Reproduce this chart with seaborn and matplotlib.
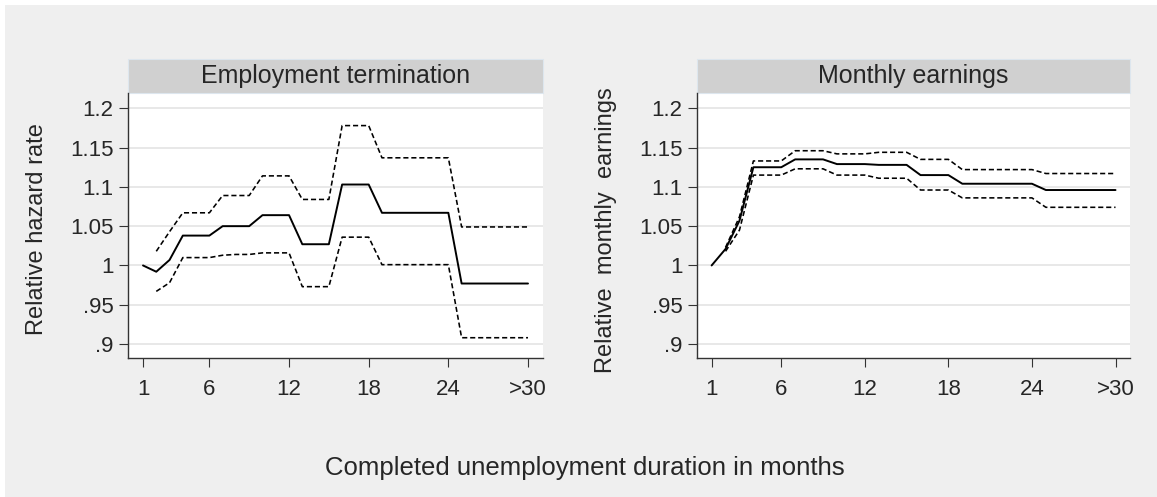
import numpy as np
import pandas as pd
import matplotlib
matplotlib.use('Agg')
import matplotlib.pyplot as plt
import seaborn as sb
from matplotlib.patches import Rectangle

# months 1..30, last one is shown as ">30"
months = list(range(1, 31))
tick_pos = [1, 6, 12, 18, 24, 30]
tick_lab = ['1', '6', '12', '18', '24', '>30']
y_ticks = [0.9, 0.95, 1.0, 1.05, 1.1, 1.15, 1.2]
y_lab = ['.9', '.95', '1', '1.05', '1.1', '1.15', '1.2']

# employment termination: estimate and bounds (bounds start at month 2)
emp_est = [1.0, 0.992, 1.007, 1.038, 1.038, 1.038, 1.050, 1.050, 1.050, 1.064,
           1.064, 1.064, 1.027, 1.027, 1.027, 1.103, 1.103, 1.103, 1.067, 1.067,
           1.067, 1.067, 1.067, 1.067, 0.977, 0.977, 0.977, 0.977, 0.977, 0.977]
emp_hi = [1.018, 1.043, 1.067, 1.067, 1.067, 1.089, 1.089, 1.089, 1.114, 1.114,
          1.114, 1.084, 1.084, 1.084, 1.178, 1.178, 1.178, 1.137, 1.137, 1.137,
          1.137, 1.137, 1.137, 1.049, 1.049, 1.049, 1.049, 1.049, 1.049]
emp_lo = [0.967, 0.978, 1.010, 1.010, 1.010, 1.013, 1.014, 1.014, 1.016, 1.016,
          1.016, 0.973, 0.973, 0.973, 1.036, 1.036, 1.036, 1.001, 1.001, 1.001,
          1.001, 1.001, 1.001, 0.908, 0.908, 0.908, 0.908, 0.908, 0.908]

# monthly earnings
earn_est = [1.0, 1.021, 1.057, 1.125, 1.125, 1.125, 1.135, 1.135, 1.135, 1.129,
            1.129, 1.129, 1.128, 1.128, 1.128, 1.115, 1.115, 1.115, 1.104, 1.104,
            1.104, 1.104, 1.104, 1.104, 1.096, 1.096, 1.096, 1.096, 1.096, 1.096]
earn_hi = [1.023, 1.062, 1.133, 1.133, 1.133, 1.146, 1.146, 1.146, 1.142, 1.142,
           1.142, 1.144, 1.144, 1.144, 1.135, 1.135, 1.135, 1.122, 1.122, 1.122,
           1.122, 1.122, 1.122, 1.117, 1.117, 1.117, 1.117, 1.117, 1.117]
earn_lo = [1.018, 1.045, 1.115, 1.115, 1.115, 1.123, 1.123, 1.123, 1.115, 1.115,
           1.115, 1.111, 1.111, 1.111, 1.096, 1.096, 1.096, 1.086, 1.086, 1.086,
           1.086, 1.086, 1.086, 1.074, 1.074, 1.074, 1.074, 1.074, 1.074]

sb.set_style('white')
plt.rcParams['font.family'] = ['Liberation Sans', 'DejaVu Sans']

W, H = 1157, 497
fig = plt.figure(figsize=(W / 100, H / 100), dpi=100)
fig.patch.set_facecolor('white')
# light gray background (thin white edge top/left like the original)
fig.patches.append(Rectangle((5 / W, 0), 1, 1 - 5 / H, transform=fig.transFigure,
                             facecolor='#efefef', edgecolor='none', zorder=-10))

panels = [
    ('Employment termination', emp_est, emp_hi, emp_lo, [128, 543], (-0.13, 31.13)),
    ('Monthly earnings', earn_est, earn_hi, earn_lo, [697, 1130], (-0.05, 31.04)),
]

top, bot = 93.3, 358
for title, est, hi, lo, xs, xlim in panels:
    ax = fig.add_axes([xs[0] / W, 1 - bot / H, (xs[1] - xs[0]) / W, (bot - top) / H])
    ax.set_facecolor('white')
    for v in y_ticks:
        ax.axhline(v, color='#e8e8e8', lw=1.4, zorder=0)
    sb.lineplot(x=months, y=est, ax=ax, color='black', lw=1.4)
    sb.lineplot(x=months[1:], y=hi, ax=ax, color='black', lw=1.15, linestyle=(0, (3.2, 1.8)))
    sb.lineplot(x=months[1:], y=lo, ax=ax, color='black', lw=1.15, linestyle=(0, (3.2, 1.8)))
    ax.set_xlim(*xlim)
    ax.set_ylim(0.8822, 1.2191)
    ax.set_xticks(tick_pos)
    ax.set_xticklabels(tick_lab)
    ax.set_yticks(y_ticks)
    ax.set_yticklabels(y_lab)
    ax.tick_params(axis='both', direction='out', length=6.5, width=0.8, color='#333333',
                   labelsize=16, pad=4, left=True, bottom=True)
    ax.tick_params(axis='x', pad=8.5)
    for s in ['top', 'right']:
        ax.spines[s].set_visible(False)
    for s in ['left', 'bottom']:
        ax.spines[s].set_color('#333333')
        ax.spines[s].set_linewidth(1.0)
    ax.set_xlabel('')
    ax.set_ylabel('')
    # header strip
    hdr = Rectangle((0, 1), 1, 34 / (bot - top), transform=ax.transAxes, clip_on=False,
                    facecolor='#d0d0d0', edgecolor='#dde6ee', lw=0.8)
    ax.add_patch(hdr)
    ax.text(0.5, 1 + 17 / (bot - top), title, transform=ax.transAxes, ha='center',
            va='center', fontsize=18)

fig.text(37 / W, 1 - 229 / H, 'Relative hazard rate', rotation=90, ha='center',
         va='center', fontsize=17)
fig.text(606 / W, 1 - 230 / H, 'Relative  monthly  earnings', rotation=90, ha='center',
         va='center', fontsize=17)
fig.text(585 / W, 1 - 468 / H, 'Completed unemployment duration in months', ha='center',
         va='center', fontsize=18.5)

plt.savefig('out.png', dpi=100)
